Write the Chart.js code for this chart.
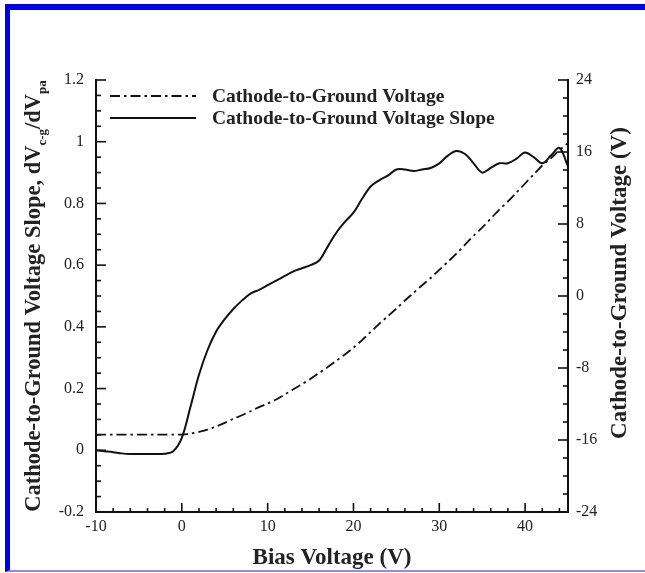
<!DOCTYPE html>
<html><head><meta charset="utf-8">
<script src="https://cdn.jsdelivr.net/npm/chart.js@4"></script>
<style>
html,body{margin:0;padding:0;background:#fff;}
#wrap{position:relative;width:645px;height:573px;}
#frame{position:absolute;left:5px;top:4px;width:645px;height:560px;border-left:5px solid #0000ee;border-top:6px solid #0000ee;border-bottom:2px solid #8c8cff;pointer-events:none;}
canvas{position:absolute;left:0;top:0;}
</style></head>
<body><div id="wrap"><canvas id="c" width="645" height="573"></canvas><div id="frame"></div></div>
<script>
const biasVoltage = [-10,-9,-8,-7,-6,-5,-4,-3,-2,-1,0,1,2,3,4,5,6,7,8,9,10,11,12,13,14,15,16,17,18,19,20,21,22,23,24,25,26,27,28,29,30,31,32,33,34,35,36,37,38,39,40,41,42,43,44,45];
const voltageSlope = [0.0,-0.003,-0.006,-0.01,-0.012,-0.012,-0.012,-0.012,-0.011,-0.003,0.04,0.14,0.245,0.325,0.385,0.425,0.458,0.485,0.508,0.52,0.535,0.55,0.565,0.58,0.59,0.6,0.615,0.66,0.705,0.74,0.77,0.815,0.855,0.875,0.89,0.91,0.91,0.905,0.91,0.915,0.93,0.955,0.97,0.96,0.93,0.9,0.915,0.93,0.93,0.945,0.965,0.95,0.93,0.955,0.98,0.92];
const cathodeVoltage = [-15.4,-15.4,-15.4,-15.4,-15.4,-15.4,-15.4,-15.4,-15.4,-15.4,-15.4,-15.3,-15.1,-14.85,-14.5,-14.1,-13.65,-13.25,-12.8,-12.35,-11.95,-11.5,-10.95,-10.35,-9.8,-9.2,-8.55,-7.9,-7.2,-6.5,-5.75,-4.9,-4.0,-3.1,-2.25,-1.4,-0.5,0.35,1.2,2.0,2.9,3.8,4.7,5.7,6.7,7.6,8.6,9.6,10.5,11.5,12.5,13.5,14.5,15.3,16.2,17.0];
const xTicks = [-10,0,10,20,30,40];
const yLeftTicks = [-0.2,0,0.2,0.4,0.6,0.8,1,1.2];
const yRightTicks = [-24,-16,-8,0,8,16,24];
const legendLabels = ['Cathode-to-Ground Voltage','Cathode-to-Ground Voltage Slope'];

const SERIF = '"Liberation Serif","Times New Roman",serif';

const decor = {
  id:'decor',
  afterDraw(chart){
    const {ctx, chartArea:a, scales} = chart;
    const x=scales.x, y=scales.y, y2=scales.y2;
    ctx.save();
    ctx.strokeStyle='#111'; ctx.lineWidth=1.6;
    for(let i=-4;i<=24;i++){
      const v=i*0.05, p=y.getPixelForValue(v), L=(i%4===0)?10:5;
      ctx.beginPath(); ctx.moveTo(a.left,p); ctx.lineTo(a.left+L,p); ctx.stroke();
    }
    for(let v=-24;v<=24;v+=2){
      const p=y2.getPixelForValue(v), L=(v%8===0)?10:5;
      ctx.beginPath(); ctx.moveTo(a.right,p); ctx.lineTo(a.right-L,p); ctx.stroke();
    }
    for(let v=-10;v<=44;v+=2){
      const p=x.getPixelForValue(v), L=(v%10===0)?9:4;
      ctx.beginPath(); ctx.moveTo(p,a.bottom); ctx.lineTo(p,a.bottom-L); ctx.stroke();
    }
    // legend
    const ds=chart.data.datasets;
    const rows=[{d:ds[0],yy:96},{d:ds[1],yy:118}];
    ctx.font='bold 19.5px '+SERIF; ctx.fillStyle='#222'; ctx.textBaseline='middle'; ctx.textAlign='left';
    rows.forEach(r=>{
      ctx.save(); ctx.strokeStyle=r.d.borderColor; ctx.lineWidth=r.d.borderWidth; ctx.setLineDash(r.d.borderDash||[]);
      ctx.beginPath(); ctx.moveTo(110,r.yy); ctx.lineTo(196,r.yy); ctx.stroke(); ctx.restore();
      ctx.fillText(r.d.label,212,r.yy+1);
    });
    // x title
    ctx.font='bold 23px '+SERIF; ctx.textAlign='center'; ctx.textBaseline='alphabetic';
    ctx.fillText('Bias Voltage (V)', 332, 564);
    // right title
    ctx.save(); ctx.translate(626,283); ctx.rotate(-Math.PI/2);
    ctx.fillText('Cathode-to-Ground Voltage (V)',0,0); ctx.restore();
    // left title with subscripts
    const parts=[['Cathode-to-Ground Voltage Slope, dV',0],['c-g',1],['/dV',0],['pa',1]];
    const big='bold 22.5px '+SERIF, small='bold 13px '+SERIF;
    let total=0; parts.forEach(p=>{ctx.font=p[1]?small:big; total+=ctx.measureText(p[0]).width;});
    ctx.save(); ctx.translate(40,296); ctx.rotate(-Math.PI/2);
    ctx.textAlign='left'; ctx.textBaseline='alphabetic';
    let cx=-total/2;
    parts.forEach(p=>{ctx.font=p[1]?small:big; ctx.fillText(p[0],cx,p[1]?6:0); cx+=ctx.measureText(p[0]).width;});
    ctx.restore();
    ctx.restore();
  }
};

new Chart(document.getElementById('c'),{
  type:'line',
  data:{datasets:[
    {label:legendLabels[0], yAxisID:'y2', data:biasVoltage.map((b,i)=>({x:b,y:cathodeVoltage[i]})),
     borderColor:'#111', borderWidth:1.8, borderDash:[10,4,2.5,4], pointRadius:0, tension:0.3, fill:false},
    {label:legendLabels[1], yAxisID:'y', data:biasVoltage.map((b,i)=>({x:b,y:voltageSlope[i]})),
     borderColor:'#111', borderWidth:2, pointRadius:0, tension:0.35, fill:false}
  ]},
  options:{
    responsive:false, animation:false, devicePixelRatio:1,
    layout:{padding:{top:80,left:0,right:0,bottom:0}},
    plugins:{legend:{display:false},tooltip:{enabled:false}},
    scales:{
      x:{type:'linear',min:-10,max:45,
         afterFit(s){s.height=61;},
         afterBuildTicks(s){s.ticks=xTicks.map(v=>({value:v}));},
         grid:{display:false,drawTicks:false},
         border:{display:true,color:'#111',width:2},
         ticks:{padding:5,color:'#222',font:{family:SERIF,size:16},maxRotation:0,autoSkip:false}},
      y:{type:'linear',position:'left',min:-0.2,max:1.2,
         afterFit(s){s.width=96;},
         afterBuildTicks(s){s.ticks=yLeftTicks.map(v=>({value:v}));},
         grid:{display:false,drawTicks:false},
         border:{display:true,color:'#111',width:2},
         ticks:{padding:12,color:'#222',font:{family:SERIF,size:16},autoSkip:false,callback:v=>String(Math.round(v*10)/10)}},
      y2:{type:'linear',position:'right',min:-24,max:24,
         afterFit(s){s.width=77;},
         afterBuildTicks(s){s.ticks=yRightTicks.map(v=>({value:v}));},
         grid:{display:false,drawTicks:false},
         border:{display:true,color:'#111',width:2},
         ticks:{padding:8,color:'#222',font:{family:SERIF,size:16},autoSkip:false}}
    }
  },
  plugins:[decor]
});
</script></body></html>
